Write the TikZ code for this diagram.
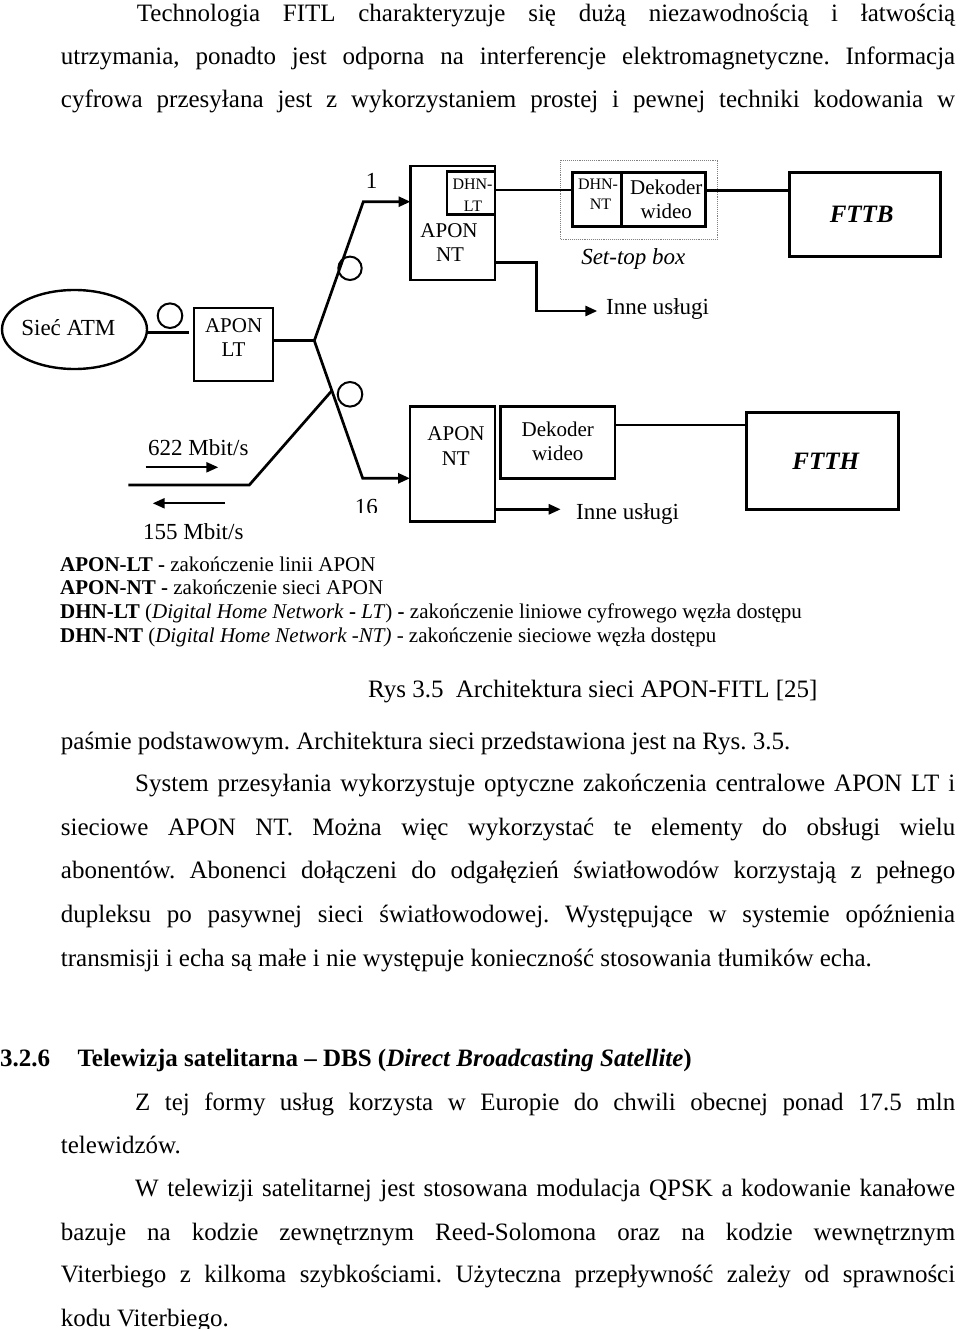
\documentclass[tikz,border=0pt]{standalone}
\usepackage{fontspec}
\setmainfont{Liberation Serif}
\usetikzlibrary{arrows.meta,shapes.geometric,calc}
\begin{document}
\frenchspacing
\begin{tikzpicture}[x=1pt,y=-1pt,
  wire/.style={line width=2.7pt},
  thin wire/.style={line width=2.3pt},
  arr/.style={-{Triangle[length=12pt,width=10pt]}},
  box/.style={draw,line width=2.5pt,inner sep=0pt,outer sep=0pt,anchor=north west},
  split/.style={draw,circle,line width=2pt,inner sep=0pt,outer sep=0pt},
  lbl/.style={inner sep=0pt,anchor=base,font=\fontsize{23}{27}\selectfont},
  lblsm/.style={inner sep=0pt,anchor=base,font=\fontsize{21}{25}\selectfont},
  lbltiny/.style={inner sep=0pt,anchor=base,font=\fontsize{16}{19}\selectfont},
  body/.style={inner sep=0pt,anchor=base west,font=\fontsize{25}{30}\selectfont},
  legend/.style={inner sep=0pt,anchor=base west,font=\fontsize{21}{25}\selectfont},
]
\useasboundingbox (0,0) rectangle (960,1329);

% ---------- body text (top) ----------
\node[body] (p1) at (136.7,21.7) {\makebox[818.3pt][s]{Technologia FITL charakteryzuje się dużą niezawodnością i łatwością}};
\node[body] (p2) at (60.7,64.3) {\makebox[894.3pt][s]{utrzymania, ponadto jest odporna na interferencje elektromagnetyczne. Informacja}};
\node[body] (p3) at (60.7,107.3) {\makebox[894.3pt][s]{cyfrowa przesyłana jest z wykorzystaniem prostej i pewnej techniki kodowania w}};

% ---------- diagram ----------
\node[draw,ellipse,line width=2.4pt,minimum width=145pt,minimum height=79pt,inner sep=0pt,outer sep=0pt] (atm) at (74.5,329.5) {};
\node[lbl] (atmtxt) at (68.3,335) {Sieć ATM};

\node[split,minimum size=24.6pt] (c1) at (170,315.7) {};
\node[split,minimum size=23.4pt] (c2) at (350,268.3) {};
\node[split,minimum size=24.6pt] (c3) at (350,394.3) {};

\node[box,minimum width=79pt,minimum height=73pt] (lt) at (194,308) {};
\node[lblsm] (lt1) at (233.6,332.7) {APON};
\node[lblsm] (lt2) at (233.6,356.7) {LT};

\node[box,minimum width=84.5pt,minimum height=114pt] (ntup) at (410.5,166) {};
\node[box,minimum width=48pt,minimum height=42.6pt] (dhnlt) at (447,171.7) {};
\node[lbltiny] (dl1) at (472.5,189.3) {DHN-};
\node[lbltiny] (dl2) at (473,211.7) {LT};
\node[lblsm] (nu1) at (449,237.3) {APON};
\node[lblsm] (nu2) at (450,261.7) {NT};

\node[draw,densely dotted,line width=0.9pt,gray,inner sep=0pt,outer sep=0pt,anchor=north west,minimum width=157pt,minimum height=79pt] (stb) at (560.7,160) {};
\node[box,minimum width=49pt,minimum height=54.4pt] (dhnnt) at (572.7,172.3) {};
\node[box,minimum width=84pt,minimum height=54.4pt] (dek1) at (621.7,172.3) {};
\node[lbltiny] (dn1) at (598,190) {DHN-};
\node[lbltiny] (dn2) at (600.5,210) {NT};
\node[lblsm] (dk1) at (666.3,195) {Dekoder};
\node[lblsm] (dk2) at (666.3,219) {wideo};
\node[lbl,font=\fontsize{23}{27}\selectfont\itshape] (stbt) at (633.3,265) {Set-top box};

\node[box,minimum width=151.4pt,minimum height=84.4pt] (fttb) at (789.3,172.3) {};
\node[lbl,font=\fontsize{25}{30}\selectfont\bfseries\itshape] (fttbt) at (861.7,222.7) {FTTB};

\node[box,minimum width=85pt,minimum height=115pt] (ntdn) at (410,406.7) {};
\node[lblsm] (nd1) at (456,440) {APON};
\node[lblsm] (nd2) at (455.8,465) {NT};
\node[box,minimum width=114.3pt,minimum height=72pt] (dek2) at (500.7,406.7) {};
\node[lblsm] (dk3) at (557.8,436) {Dekoder};
\node[lblsm] (dk4) at (557.7,460) {wideo};
\node[box,minimum width=151.6pt,minimum height=97pt] (ftth) at (746.7,412.3) {};
\node[lbl,font=\fontsize{25}{30}\selectfont\bfseries\itshape] (ftht) at (825.8,469.3) {FTTH};

% connectors
\coordinate (a1) at (147,332.7);
\coordinate (a2) at (188.7,332.7);
\draw[wire] (a1) -- (a2);
\coordinate (j) at (314.3,340.7);
\draw[wire] (lt.east |- j) -- (j);
\coordinate (b1) at (363.3,201.7);
\draw[wire,arr] (j) -- (b1) -- (b1 -| ntup.west);
\coordinate (b2) at (362.7,478.3);
\draw[wire,arr] (j) -- (b2) -- (b2 -| ntdn.west);
\coordinate (m) at ($(j)!0.363!(b2)$);
\coordinate (k) at (249.3,485);
\coordinate (e) at (128.3,485);
\draw[wire] (m) -- (k) -- (e);

\node[lbl] (n1) at (371.7,188.3) {1};
\begin{scope}
  \clip (340,480) rectangle (400,512.5);
  \node[lbl] (n16) at (366.3,514) {16};
\end{scope}

\coordinate (r1s) at (145.7,467.3);
\coordinate (r1e) at (218.3,467.3);
\draw[thin wire,arr] (r1s) -- (r1e);
\coordinate (r2s) at (225,503.3);
\coordinate (r2e) at (152.7,503.3);
\draw[thin wire,arr] (r2s) -- (r2e);
\node[lbl] (rate1) at (198.3,455) {622 Mbit/s};
\node[lbl] (rate2) at (193.3,539.3) {155 Mbit/s};

\coordinate (u1) at (495,190);
\draw[wire] (u1) -- (u1 -| dhnnt.west);
\coordinate (u2) at (705.7,190.7);
\draw[wire] (u2) -- (u2 -| fttb.west);
\coordinate (u3) at (495,262.7);
\coordinate (u4) at (536.7,262.7);
\coordinate (u5) at (597.3,311);
\draw[wire,arr] (u3) -- (u4) |- (u5);
\node[lbl,anchor=base west] (inne1) at (606,315) {Inne usługi};

\coordinate (d1) at (615,425);
\draw[wire] (d1) -- (d1 -| ftth.west);
\coordinate (d2) at (495,509.3);
\coordinate (d3) at (560.7,509.3);
\draw[wire,arr] (d2) -- (d3);
\node[lbl,anchor=base west] (inne2) at (576,519.5) {Inne usługi};

% legend
\node[legend] (lg1) at (60,571) {\textbf{APON-LT -} zakończenie linii APON};
\node[legend] (lg2) at (60,594.7) {\textbf{APON-NT -} zakończenie sieci APON};
\node[legend] (lg3) at (60,618.4) {\textbf{DHN-LT} (\textit{Digital Home Network} \textbf{-} \textit{LT}) \textbf{-} zakończenie liniowe cyfrowego węzła dostępu};
\node[legend] (lg4) at (60,642) {\textbf{DHN-NT} (\textit{Digital Home Network -NT)} - zakończenie sieciowe węzła dostępu};

\node[body] (cap) at (368,697) {Rys 3.5\hspace{6pt} Architektura sieci APON-FITL [25]};

% ---------- body text (middle) ----------
\node[body] (q1) at (60.7,749.3) {paśmie podstawowym. Architektura sieci przedstawiona jest na Rys. 3.5.};
\node[body] (q2) at (135,791.7) {\makebox[820pt][s]{System przesyłania wykorzystuje optyczne zakończenia centralowe APON LT i}};
\node[body] (q3) at (60.7,835) {\makebox[894.3pt][s]{sieciowe APON NT. Można więc wykorzystać te elementy do obsługi wielu}};
\node[body] (q4) at (60.7,878.3) {\makebox[894.3pt][s]{abonentów. Abonenci dołączeni do odgałęzień światłowodów korzystają z pełnego}};
\node[body] (q5) at (60.7,922.3) {\makebox[894.3pt][s]{dupleksu po pasywnej sieci światłowodowej. Występujące w systemie opóźnienia}};
\node[body] (q6) at (60.7,966) {transmisji i echa są małe i nie występuje konieczność stosowania tłumików echa.};

% ---------- section ----------
\node[body,font=\fontsize{25}{30}\selectfont\bfseries] (h1) at (0,1066) {3.2.6};
\node[body,font=\fontsize{25}{30}\selectfont\bfseries] (h2) at (77.3,1066) {Telewizja satelitarna – DBS (\textit{Direct Broadcasting Satellite})};

\node[body] (s1) at (135,1110) {\makebox[820pt][s]{Z tej formy usług korzysta w Europie do chwili obecnej ponad 17.5 mln}};
\node[body] (s2) at (60.7,1153.3) {telewidzów.};
\node[body] (s3) at (135,1196.7) {\makebox[820pt][s]{W telewizji satelitarnej jest stosowana modulacja QPSK a kodowanie kanałowe}};
\node[body] (s4) at (60.7,1240) {\makebox[894.3pt][s]{bazuje na kodzie zewnętrznym Reed-Solomona oraz na kodzie wewnętrznym}};
\node[body] (s5) at (60.7,1282.7) {\makebox[894.3pt][s]{Viterbiego z kilkoma szybkościami. Użyteczna przepływność zależy od sprawności}};
\node[body] (s6) at (60.7,1326) {kodu Viterbiego.};
\end{tikzpicture}
\end{document}
